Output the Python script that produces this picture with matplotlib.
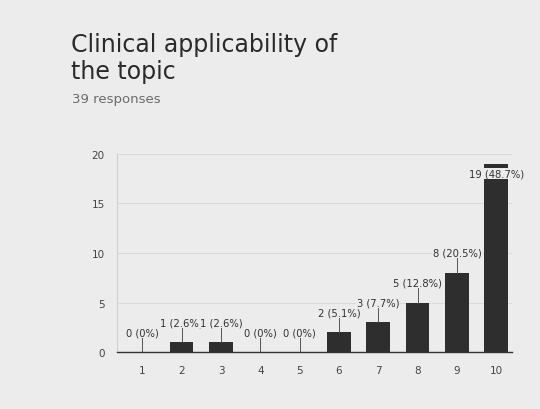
import matplotlib.pyplot as plt
import numpy as np

# Linear scale answers (1 to 10) and the number of people who picked each
scores = [1, 2, 3, 4, 5, 6, 7, 8, 9, 10]
counts = [0, 1, 1, 0, 0, 2, 3, 5, 8, 19]
percents = ['0%', '2.6%', '2.6%', '0%', '0%', '5.1%', '7.7%', '12.8%', '20.5%', '48.7%']
total = 39

bg = '#ececec'
bar_color = '#2e2e2e'

fig = plt.figure(figsize=(5.4, 4.1), dpi=100, facecolor=bg)
ax = fig.add_axes([0.217, 0.139, 0.731, 0.483], facecolor=bg)

x = np.array(scores)
ax.bar(x, counts, width=0.6, color=bar_color, zorder=3)

# value labels sit a bit above each bar, joined to it by a thin leader line
for xi, c, p in zip(x, counts, percents):
    label_y = min(c + 2.0, 18.0)
    if label_y > c:
        ax.plot([xi, xi], [c, label_y - 0.5], color='#555555', lw=0.7, zorder=4)
    ax.text(xi, label_y, '{} ({})'.format(c, p), ha='center', va='center',
            fontsize=7.2, color='#333333', zorder=5,
            bbox=dict(boxstyle='square,pad=0.05', fc=bg, ec='none'))

ax.set_xlim(0.36, 10.4)
ax.set_ylim(0, 20)
ax.set_xticks(x)
ax.set_xticklabels([str(s) for s in scores])
ax.set_yticks([0, 5, 10, 15, 20])
ax.tick_params(length=0, labelsize=7.5, colors='#444444', pad=9)
ax.yaxis.grid(True, color='#dadada', lw=0.8, zorder=0)

for side in ['top', 'right']:
    ax.spines[side].set_visible(False)
ax.spines['left'].set_color('#d0d0d0')
ax.spines['bottom'].set_color('#333333')
ax.spines['bottom'].set_linewidth(1.0)

fig.text(0.131, 0.890, 'Clinical applicability of', fontsize=17,
         color='#2a2a2a', va='center', ha='left')
fig.text(0.131, 0.825, 'the topic', fontsize=17,
         color='#2a2a2a', va='center', ha='left')
fig.text(0.133, 0.757, '{} responses'.format(total), fontsize=9.5,
         color='#6a6a6a', va='center', ha='left')

fig.savefig('out.png', dpi=100, facecolor=bg)
